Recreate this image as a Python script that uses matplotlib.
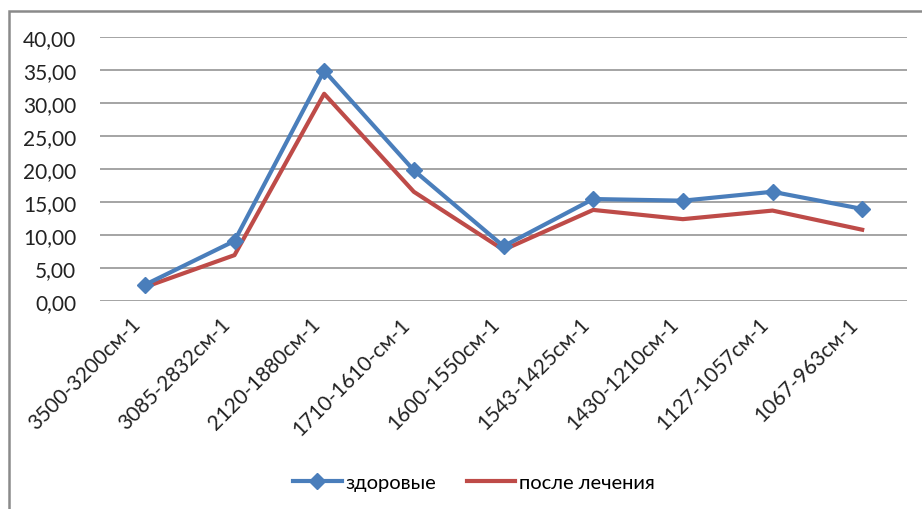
import matplotlib
matplotlib.use("Agg")
import matplotlib.pyplot as plt
from matplotlib.patches import Rectangle
from matplotlib.ticker import FuncFormatter

plt.rcParams["font.family"] = ["Lato", "Open Sans", "DejaVu Sans"]

categories = [
    "3500-3200см-1",
    "3085-2832см-1",
    "2120-1880см-1",
    "1710-1610-см-1",
    "1600-1550см-1",
    "1543-1425см-1",
    "1430-1210см-1",
    "1127-1057см-1",
    "1067-963см-1",
]
healthy = [2.45, 9.1, 34.9, 19.8, 8.3, 15.45, 15.2, 16.55, 13.95]
after_treatment = [2.1, 6.95, 31.4, 16.55, 7.75, 13.8, 12.4, 13.7, 10.8]
series_labels = ["здоровые", "после лечения"]

BLUE = "#4A7EBB"
RED = "#BE4B48"
GRID = "#8C8C8C"

fig = plt.figure(figsize=(9.22, 5.10), dpi=100)
ax = fig.add_axes([100 / 922, 1 - 302 / 510, 807 / 922, 264 / 510])

x = list(range(len(categories)))
ax.plot(x, healthy, color=BLUE, linewidth=3.0, marker="D", markersize=8.5,
        label=series_labels[0], zorder=4)
ax.plot(x, after_treatment, color=RED, linewidth=3.0, label=series_labels[1], zorder=3)

ax.set_xlim(-0.5, len(categories) - 0.5)
ax.set_ylim(0, 40)
ax.set_yticks(range(0, 41, 5))
ax.yaxis.set_major_formatter(FuncFormatter(lambda v, _: f"{v:.2f}".replace(".", ",")))
ax.set_xticks(x)
ax.set_xticklabels(categories, rotation=45, ha="right", fontsize=15, color="#222222")
ax.tick_params(axis="x", length=0, pad=9)
ax.tick_params(axis="y", length=0, pad=17, labelsize=15, labelcolor="#222222")
ax.grid(axis="y", color=GRID, linewidth=1.1)
ax.set_axisbelow(True)
for spine in ax.spines.values():
    spine.set_visible(False)

fig.legend(loc="center", bbox_to_anchor=(474 / 922, 1 - 483 / 510), ncol=2,
           frameon=False, fontsize=14.5, handlelength=2.4, handletextpad=0.2,
           columnspacing=1.5)

# chart area border (left and top visible)
fig.patches.append(Rectangle((9 / 922, -0.1), 1.2, 1 - 12 / 510 + 0.1,
                             transform=fig.transFigure, fill=False,
                             edgecolor="#8A8A8A", linewidth=1.8))

fig.savefig("out.png", dpi=100)
